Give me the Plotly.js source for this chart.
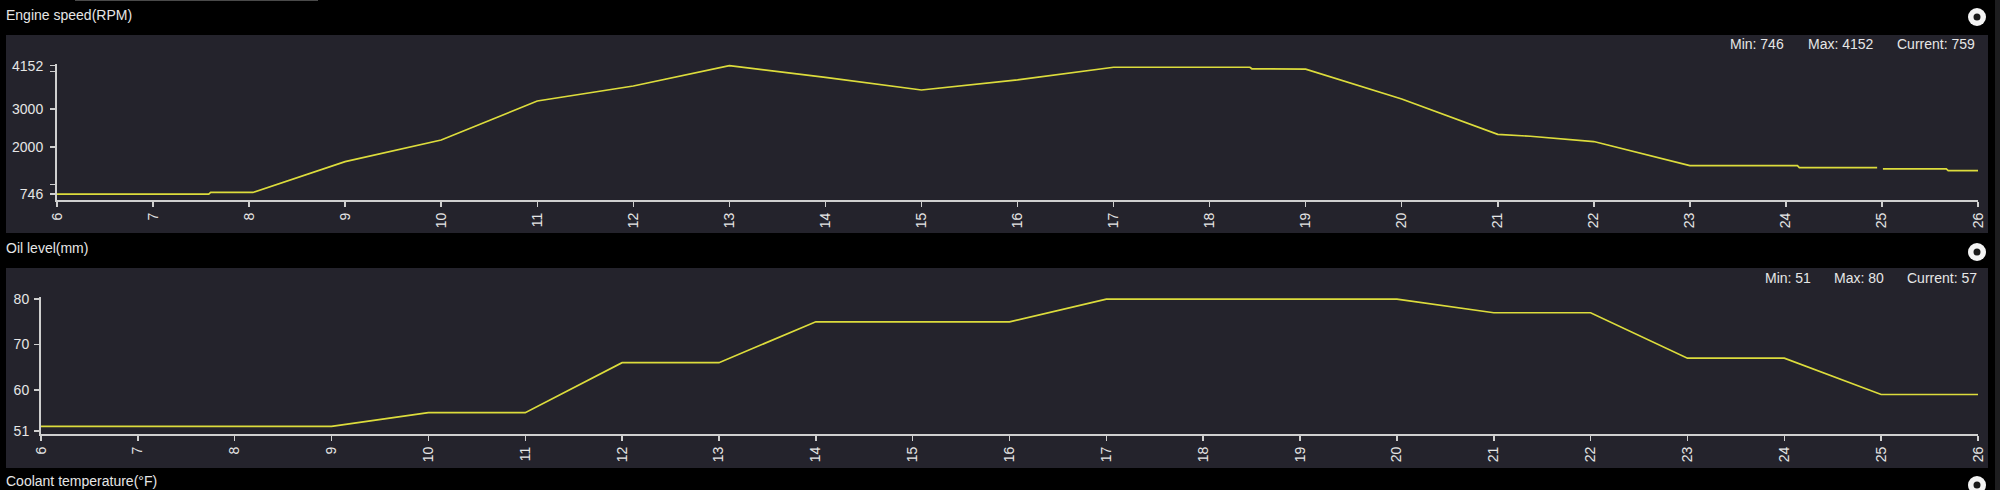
<!DOCTYPE html>
<html>
<head>
<meta charset="utf-8">
<script src="https://cdn.plot.ly/plotly-3.0.1.min.js"></script>
<style>
html,body{margin:0;padding:0;background:#000;overflow:hidden;}
#chart{width:2000px;height:490px;}
</style>
</head>
<body>
<div id="chart"></div>
<script>
// ---- data ----
const timeTicks = [6,7,8,9,10,11,12,13,14,15,16,17,18,19,20,21,22,23,24,25,26];
const timeTickText = ["6","7","8","9","10","11","12","13","14","15","16","17","18","19","20","21","22","23","24","25","26"];

const rpmTime = [6,7,7.58,7.6,8.04,9,10,11,12,13,14,15,16,17,18,18.42,18.44,19,20,21,21.34,21.55,21.74,21.95,22,23,24,24.12,24.14,24.95,24.98,25.01,25.67,25.69,26];
const rpmValues = [746,746,746,790,790,1606,2181,3215,3613,4152,3844,3507,3774,4110,4110,4110,4070,4060,3268,2332,2280,2230,2185,2145,2140,1500,1500,1500,1450,1450,null,1415,1415,1370,1370];
const rpmTickVals = [746,1000,2000,3000,4000,4152];
const rpmTickText = ["746","","2000","3000","","4152"];
const rpmStats = ["Min: 746", "Max: 4152", "Current: 759"];

const oilTime = [6,7,8,9,10,11,12,13,14,15,16,17,18,19,20,21,22,23,24,25,26];
const oilValues = [52,52,52,52,55,55,66,66,75,75,75,80,80,80,80,77,77,67,67,59,59];
const oilTickVals = [51,60,70,80];
const oilTickText = ["51","60","70","80"];
const oilStats = ["Min: 51", "Max: 80", "Current: 57"];

const panelTitles = ["Engine speed(RPM)", "Oil level(mm)", "Coolant temperature(°F)"];

// ---- layout helpers (pixel -> paper) ----
const W = 2000, H = 490;
const px = v => v / W;
const py = v => 1 - v / H;

const FONT = "Liberation Sans, Arial, sans-serif";
const lineCol = "#dcdc3c";
const axisCol = "#cfcfcf";
const panelCol = "#24232c";
const textCol = "#e6e6e6";

const traces = [
  {x: rpmTime, y: rpmValues, type: "scatter", mode: "lines", xaxis: "x", yaxis: "y",
   line: {color: lineCol, width: 1.7}, connectgaps: false, hoverinfo: "skip"},
  {x: oilTime, y: oilValues, type: "scatter", mode: "lines", xaxis: "x2", yaxis: "y2",
   line: {color: lineCol, width: 1.7}, hoverinfo: "skip"}
];

function xAxis(domain, anchor) {
  return {
    domain: domain, anchor: anchor, range: [6, 26],
    tickmode: "array", tickvals: timeTicks, ticktext: timeTickText,
    tickangle: -90, ticks: "outside", ticklen: 5, tickwidth: 1.5, tickcolor: axisCol,
    showline: true, linecolor: axisCol, linewidth: 2,
    showgrid: false, zeroline: false,
    tickfont: {family: FONT, size: 14, color: textCol}
  };
}
function yAxis(domain, anchor, range, vals, text, standoff) {
  return {
    domain: domain, anchor: anchor, range: range,
    tickmode: "array", tickvals: vals, ticktext: text,
    ticks: "outside", ticklen: 5, tickwidth: 1.5, tickcolor: axisCol,
    ticklabelstandoff: standoff,
    showline: true, linecolor: axisCol, linewidth: 2,
    showgrid: false, zeroline: false,
    tickfont: {family: FONT, size: 14, color: textCol}
  };
}

const shapes = [
  // panels
  {type: "rect", xref: "paper", yref: "paper", x0: px(6), x1: px(1988), y0: py(233), y1: py(35),
   fillcolor: panelCol, line: {width: 0}, layer: "below"},
  {type: "rect", xref: "paper", yref: "paper", x0: px(6), x1: px(1988), y0: py(468), y1: py(268),
   fillcolor: panelCol, line: {width: 0}, layer: "below"},
  // right edge strip
  {type: "rect", xref: "paper", yref: "paper", x0: px(1995), x1: px(2000), y0: 0, y1: 1,
   fillcolor: "#1d1d1f", line: {width: 0}, layer: "below"},
  // faint top line
  {type: "line", xref: "paper", yref: "paper", x0: px(75), x1: px(318), y0: py(0.5), y1: py(0.5),
   line: {color: "#4a4a4a", width: 1}, layer: "below"}
];
// round buttons
[17, 252, 485].forEach(cy => {
  shapes.push({type: "circle", xref: "paper", yref: "paper",
    x0: px(1977 - 9), x1: px(1977 + 9), y0: py(cy + 9), y1: py(cy - 9),
    fillcolor: "#f4f4f4", line: {width: 0}, layer: "above"});
  shapes.push({type: "circle", xref: "paper", yref: "paper",
    x0: px(1977 - 3.5), x1: px(1977 + 3.5), y0: py(cy + 3.5), y1: py(cy - 3.5),
    fillcolor: "#1a1a1a", line: {width: 0}, layer: "above"});
});

function ann(text, x, y, size) {
  return {text: text, xref: "paper", yref: "paper", x: px(x), y: py(y),
    xanchor: "left", yanchor: "middle", showarrow: false,
    font: {family: FONT, size: size || 14, color: textCol}};
}
const annotations = [
  ann(panelTitles[0], 4, 15),
  ann(panelTitles[1], 4, 248),
  ann(panelTitles[2], 4, 481),
  ann(rpmStats[0], 1728, 44), ann(rpmStats[1], 1806, 44), ann(rpmStats[2], 1895, 44),
  ann(oilStats[0], 1763, 278), ann(oilStats[1], 1832, 278), ann(oilStats[2], 1905, 278)
];

const layout = {
  width: W, height: H, autosize: false,
  margin: {l: 0, r: 0, t: 0, b: 0, pad: 0},
  paper_bgcolor: "#000000", plot_bgcolor: "rgba(0,0,0,0)",
  showlegend: false,
  xaxis: xAxis([px(57), px(1978)], "y"),
  yaxis: yAxis([py(200), py(63.5)], "x", [590, 4210], rpmTickVals, rpmTickText, 4),
  xaxis2: xAxis([px(41), px(1978)], "y2"),
  yaxis2: yAxis([py(434), py(297.3)], "x2", [50.3, 80.4], oilTickVals, oilTickText, 2),
  shapes: shapes,
  annotations: annotations,
  font: {family: FONT, color: textCol}
};

Plotly.newPlot("chart", traces, layout, {staticPlot: true, displayModeBar: false});
</script>
</body>
</html>
